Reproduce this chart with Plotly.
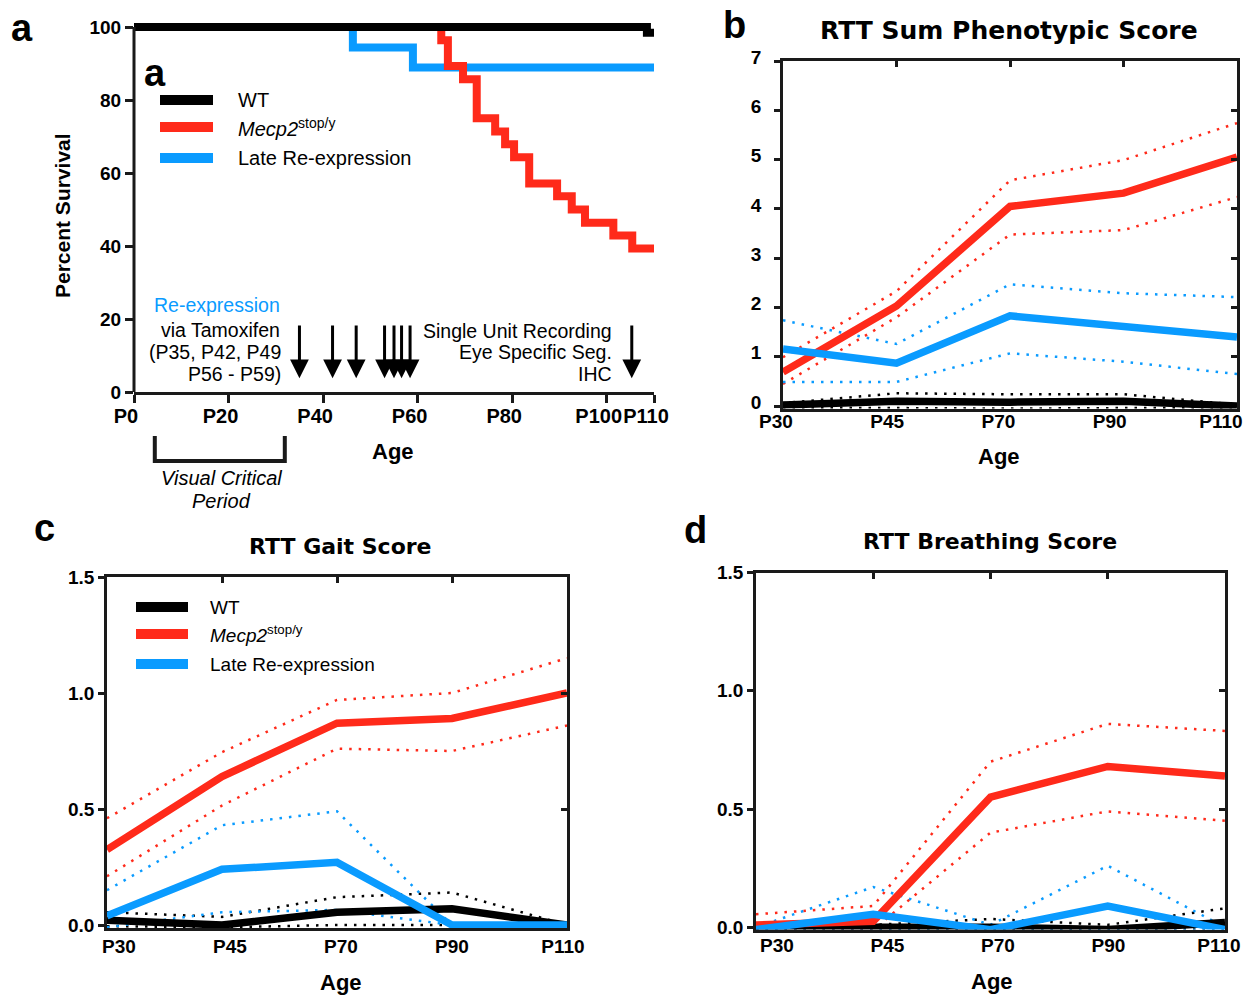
import plotly.graph_objects as go

W, H = 1250, 995
def px(x): return x / W
def py(y): return 1 - y / H

RED = '#FF2A1A'
BLUE = '#0A9BFF'
BLACK = '#000000'
FONT = 'Arial, Liberation Sans, Helvetica, sans-serif'
TFONT = 'DejaVu Sans, Arial, sans-serif'

# ---------------- Panel a: survival ----------------
wt_days = [0, 108.5, 110]
wt_surv = [100, 98.4, 98.4]
stop_days = [0, 65, 66.4, 69.6, 72.5, 76.4, 78.5, 80.4, 83.6, 89.5, 92.6, 95.4, 101.4, 105.4, 110]
stop_surv = [100, 96.4, 89.3, 85.7, 75.0, 71.4, 67.9, 64.3, 57.1, 53.6, 50.0, 46.4, 42.9, 39.3, 39.3]
late_days = [0, 46.3, 59.0, 110]
late_surv = [100, 94.4, 88.9, 88.9]
a_xticks = [0, 20, 40, 60, 80, 100, 110]
a_xlabels = ['P0', 'P20', 'P40', 'P60', 'P80', 'P100', 'P110']
a_yticks = [0, 20, 40, 60, 80, 100]
tamoxifen_days = [35, 42, 47, 53, 55, 56.6, 58.4]
recording_days = [105.3]
critical_period = [4.4, 31.9]

# ---------------- Panels b-d ----------------
ages = ['P30', 'P45', 'P70', 'P90', 'P110']

sum_wt = [0.02, 0.10, 0.08, 0.10, 0.0]
sum_wt_hi = [0.06, 0.26, 0.24, 0.24, 0.03]
sum_wt_lo = [-0.03, -0.04, -0.05, -0.04, -0.03]
sum_stop = [0.69, 2.03, 4.05, 4.32, 5.05]
sum_stop_hi = [0.99, 2.33, 4.58, 4.99, 5.74]
sum_stop_lo = [0.45, 1.80, 3.48, 3.57, 4.24]
sum_late = [1.16, 0.87, 1.83, 1.60, 1.40]
sum_late_hi = [1.74, 1.26, 2.47, 2.29, 2.21]
sum_late_lo = [0.49, 0.49, 1.07, 0.90, 0.65]

gait_wt = [0.02, 0.0, 0.055, 0.07, 0.0]
gait_wt_hi = [0.055, 0.035, 0.12, 0.14, 0.0]
gait_wt_lo = [-0.005, -0.01, 0.0, 0.0, 0.0]
gait_stop = [0.325, 0.64, 0.87, 0.89, 1.0]
gait_stop_hi = [0.46, 0.745, 0.97, 1.0, 1.15]
gait_stop_lo = [0.21, 0.515, 0.76, 0.75, 0.86]
gait_late = [0.04, 0.24, 0.27, 0.0, 0.0]
gait_late_hi = [0.15, 0.43, 0.49, 0.0, 0.0]
gait_late_lo = [-0.01, 0.055, 0.065, 0.0, 0.0]

br_wt = [0.0, 0.0, 0.0, -0.01, 0.02]
br_wt_hi = [0.0, 0.01, 0.035, 0.01, 0.08]
br_wt_lo = [-0.01, -0.01, -0.01, -0.01, -0.01]
br_stop = [0.01, 0.025, 0.55, 0.68, 0.64]
br_stop_hi = [0.055, 0.09, 0.70, 0.86, 0.83]
br_stop_lo = [-0.01, -0.01, 0.40, 0.49, 0.45]
br_late = [-0.01, 0.055, -0.01, 0.09, -0.01]
br_late_hi = [0.0, 0.17, 0.01, 0.26, 0.0]
br_late_lo = [-0.012, -0.012, -0.012, -0.012, -0.012]

fig = go.Figure()

# panel a traces (blue, red, black on top)
for d, s, c in [(late_days, late_surv, BLUE), (stop_days, stop_surv, RED), (wt_days, wt_surv, BLACK)]:
    fig.add_trace(go.Scatter(x=d, y=s, mode='lines', line=dict(color=c, width=8, shape='hv'),
                             xaxis='x', yaxis='y', showlegend=False, hoverinfo='skip'))

DOT = '2.5px,7px'
def add_panel(xa, ya, wt, wt_hi, wt_lo, st, st_hi, st_lo, la, la_hi, la_lo):
    for arr, c in [(wt_hi, BLACK), (wt_lo, BLACK), (st_hi, RED), (st_lo, RED), (la_hi, BLUE), (la_lo, BLUE)]:
        fig.add_trace(go.Scatter(x=ages, y=arr, mode='lines', line=dict(color=c, width=2.5, dash=DOT),
                                 xaxis=xa, yaxis=ya, showlegend=False, hoverinfo='skip'))
    for arr, c in [(wt, BLACK), (st, RED), (la, BLUE)]:
        fig.add_trace(go.Scatter(x=ages, y=arr, mode='lines', line=dict(color=c, width=7.5),
                                 xaxis=xa, yaxis=ya, showlegend=False, hoverinfo='skip'))

add_panel('x2', 'y2', sum_wt, sum_wt_hi, sum_wt_lo, sum_stop, sum_stop_hi, sum_stop_lo, sum_late, sum_late_hi, sum_late_lo)
add_panel('x3', 'y3', gait_wt, gait_wt_hi, gait_wt_lo, gait_stop, gait_stop_hi, gait_stop_lo, gait_late, gait_late_hi, gait_late_lo)
add_panel('x4', 'y4', br_wt, br_wt_hi, br_wt_lo, br_stop, br_stop_hi, br_stop_lo, br_late, br_late_hi, br_late_lo)

# empty traces that attach the mirrored inner-tick axes and the tick-label axes
for xa, ya in [('x5', 'y5'), ('x6', 'y6'), ('x7', 'y7'), ('x8', 'y2'), ('x9', 'y3'), ('x10', 'y4')]:
    fig.add_trace(go.Scatter(x=[None], y=[None], xaxis=xa, yaxis=ya, showlegend=False, hoverinfo='skip'))

LC = '#1a1a1a'
def tickfont(size):
    return dict(family=FONT, size=size, color='black', weight='bold')

layout = dict(
    width=W, height=H, margin=dict(l=0, r=0, t=0, b=0, autoexpand=False),
    plot_bgcolor='rgba(0,0,0,0)', paper_bgcolor='white', showlegend=False,
)

# panel a axes
layout['xaxis'] = dict(domain=[px(134), px(654)], range=[0, 110], anchor='y',
                       tickvals=a_xticks, ticktext=a_xlabels, ticks='outside', ticklen=8, tickwidth=2.5,
                       tickcolor=LC, showline=True, linewidth=3, linecolor=LC, showgrid=False, zeroline=False,
                       tickfont=tickfont(20), ticklabelshift=-8, ticklabelstandoff=-4, tickangle=0,
                       automargin=False)
layout['yaxis'] = dict(domain=[py(392), py(392 - 102.5 * 3.65)], range=[0, 102.5], anchor='x',
                       tickvals=a_yticks, ticks='outside', ticklen=8, tickwidth=2.5, tickcolor=LC,
                       showline=False, showgrid=False, zeroline=False, tickfont=tickfont(19), automargin=False)

def box_axes(n, over_n, lab_n, xdom, labdom, ylo, yhi, ytop_px, ppu, yticks, yfmt, right_ticks,
             ystand=0, yshift=0, xstand=0):
    bottom_px = ytop_px + (yhi - ylo) * ppu
    layout[f'xaxis{n}'] = dict(domain=[px(xdom[0]), px(xdom[1])], type='category', categoryarray=ages,
                               range=[0, len(ages) - 1], anchor=f'y{n}', ticks='', showline=True, mirror=True,
                               linewidth=2.5, linecolor=LC, showgrid=False, zeroline=False,
                               showticklabels=False, automargin=False)
    layout[f'xaxis{lab_n}'] = dict(domain=[px(labdom[0]), px(labdom[1])], type='category', categoryarray=ages,
                                   range=[0, len(ages) - 1], anchor=f'y{n}', side='bottom', ticks='',
                                   showline=False, showgrid=False, zeroline=False, tickangle=0,
                                   tickfont=tickfont(19), ticklabelstandoff=xstand, automargin=False)
    layout[f'yaxis{n}'] = dict(domain=[py(bottom_px), py(ytop_px)], range=[ylo, yhi], anchor=f'x{n}',
                               tickvals=yticks, tickformat=yfmt, ticks='outside', ticklen=6, tickwidth=2.5,
                               tickcolor=LC, showline=True, mirror=True, linewidth=2.5, linecolor=LC,
                               showgrid=False, zeroline=False, tickfont=tickfont(19), ticklabelshift=yshift,
                               ticklabelstandoff=ystand, automargin=False)
    layout[f'xaxis{over_n}'] = dict(overlaying=f'x{n}', side='top', anchor=f'y{n}', range=[0, len(ages) - 1],
                                    tickvals=list(range(1, len(ages) - 1)), ticks='inside', ticklen=6,
                                    tickwidth=2.5, tickcolor=LC, showticklabels=False, showline=False,
                                    showgrid=False, zeroline=False, automargin=False)
    layout[f'yaxis{over_n}'] = dict(overlaying=f'y{n}', side='right', anchor=f'x{n}', range=[ylo, yhi],
                                    tickvals=right_ticks, ticks='inside', ticklen=6, tickwidth=2.5,
                                    tickcolor=LC, showticklabels=False, showline=False, showgrid=False,
                                    zeroline=False, automargin=False)

box_axes(2, 5, 8, (783, 1237), (776, 1221), -0.05, 7, 61, 49.3, list(range(0, 8)), 'd', list(range(1, 7)),
         ystand=9, yshift=-4, xstand=-1)
box_axes(3, 6, 9, (107, 567), (119, 563), -0.015, 1.5, 577, 232, [0, 0.5, 1.0, 1.5], '.1f', [0.5, 1.0],
         xstand=5)
box_axes(4, 7, 10, (756, 1225), (777, 1219), -0.01, 1.5, 572.5, 236.5, [0, 0.5, 1.0, 1.5], '.1f', [0.5, 1.0],
         xstand=2)

annotations = []
def text(x, y, s, size, xanchor='center', color='black', family=FONT, bold=False, italic=False, angle=0):
    if bold:
        s = f'<b>{s}</b>'
    if italic:
        s = f'<i>{s}</i>'
    annotations.append(dict(x=px(x), y=py(y), xref='paper', yref='paper', text=s, showarrow=False,
                            xanchor=xanchor, yanchor='middle', textangle=angle,
                            font=dict(family=family, size=size, color=color)))

# panel letters
text(22, 28, 'a', 38, bold=True)
text(155, 73, 'a', 38, bold=True)
text(734, 25, 'b', 38, bold=True)
text(44, 528, 'c', 38, bold=True)
text(695, 530, 'd', 38, bold=True)

# titles
text(1009, 30, 'RTT Sum Phenotypic Score', 25, family=TFONT, bold=True)
text(340, 546, 'RTT Gait Score', 22, family=TFONT, bold=True)
text(990, 541, 'RTT Breathing Score', 22, family=TFONT, bold=True)

# axis titles
text(63, 216, 'Percent Survival', 21, bold=True, angle=-90)
text(393, 451, 'Age', 22, bold=True)
text(999, 456, 'Age', 22, bold=True)
text(341, 982, 'Age', 22, bold=True)
text(992, 981, 'Age', 22, bold=True)

# panel a texts
text(282, 305, 'Re-expression', 19.5, xanchor='right', color=BLUE)
text(282, 330, 'via Tamoxifen', 19.5, xanchor='right')
text(283, 352, '(P35, P42, P49', 19.5, xanchor='right')
text(283, 374, 'P56 - P59)', 19.5, xanchor='right')
text(614, 331, 'Single Unit Recording', 19.5, xanchor='right')
text(614, 352, 'Eye Specific Seg.', 19.5, xanchor='right')
text(614, 374, 'IHC', 19.5, xanchor='right')
text(221, 478, 'Visual Critical', 20, italic=True)
text(221, 501, 'Period', 20, italic=True)

# legends
legend_names = ['WT', '<i>Mecp2</i><sup>stop/y</sup>', 'Late Re-expression']
legend_colors = [BLACK, RED, BLUE]
shapes = []
for (x0, x1, xt, ys, fs) in [(160, 213, 236, [100, 127, 158], 20), (136, 188, 208, [607, 634, 664], 19)]:
    for name, col, yy in zip(legend_names, legend_colors, ys):
        shapes.append(dict(type='line', xref='paper', yref='paper', x0=px(x0), x1=px(x1), y0=py(yy), y1=py(yy),
                           line=dict(color=col, width=10)))
        text(xt, yy, name, fs, xanchor='left')

# panel a left axis line (stops at 100)
shapes.append(dict(type='line', xref='x domain', yref='y', x0=0, x1=0, y0=0, y1=100,
                   line=dict(color=LC, width=3)))

# critical period bracket
shapes.append(dict(type='path', xref='x', yref='paper',
                   path=f'M {critical_period[0]},{py(436)} L {critical_period[0]},{py(461)} '
                        f'L {critical_period[1]},{py(461)} L {critical_period[1]},{py(436)}',
                   line=dict(color=LC, width=4)))

# arrows
for d in tamoxifen_days + recording_days:
    annotations.append(dict(x=d, y=3.8, ax=d, ay=18.6, xref='x', yref='y', axref='x', ayref='y', text='',
                            showarrow=True, arrowhead=2, arrowsize=1.25, arrowwidth=3, arrowcolor='black',
                            standoff=0, startstandoff=0))

layout['annotations'] = annotations
layout['shapes'] = shapes
fig.update_layout(**layout)
fig.write_html('out.html')
